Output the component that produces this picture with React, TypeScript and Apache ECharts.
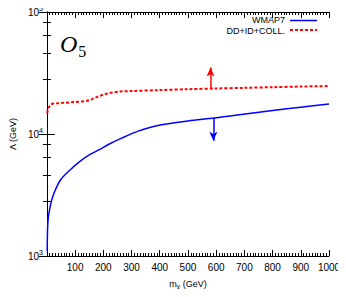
import React, { useEffect, useRef } from "react";
import * as echarts from "echarts";

const massRed = [1, 5, 15, 30, 60, 100, 140, 160, 180, 200, 220, 260, 300, 400, 500, 600, 700, 800, 900, 1000];
const lambdaRed = [14800, 16200, 17500, 17800, 18000, 18300, 18700, 19300, 20200, 21000, 21600, 22300, 22500, 22900, 23300, 23600, 23900, 24200, 24500, 24700];

const massBlue = [1, 4, 14, 25, 48, 82, 116, 150, 184, 218, 263, 321, 389, 500, 594, 662, 800, 900, 1000];
const lambdaBlue = [1100, 1970, 2700, 3270, 4200, 5070, 5930, 6730, 7400, 8200, 9200, 10500, 11700, 12800, 13500, 14200, 15600, 16600, 17600];

const redArrow = { m: 580, from: 23500, to: 35000 };
const blueArrow = { m: 590, from: 13400, to: 8800 };

const yRange = [1000, 100000];
const seriesNames = ["WMAP7", "DD+ID+COLL."];

const FONT = "Liberation Sans";
const BLUE = "#0000ff";
const RED = "#ff0000";

export default function App() {
  const ref = useRef<HTMLDivElement>(null);
  useEffect(() => {
    if (!ref.current) return;
    const chart = echarts.init(ref.current, null, { renderer: "svg" });
    const axisLine = { show: true, lineStyle: { color: "#000", width: 1 } };
    const xBase = {
      type: "value" as const,
      min: 0,
      max: 1000,
      interval: 100,
      axisLine,
      splitLine: { show: false },
      axisTick: { show: true, inside: true, length: 6, lineStyle: { color: "#000" } },
      minorTick: { show: true, splitNumber: 10, length: 3, lineStyle: { color: "#000" } },
      minorSplitLine: { show: false },
    };
    const yBase = {
      type: "log" as const,
      logBase: 10,
      min: yRange[0],
      max: yRange[1],
      axisLine,
      splitLine: { show: false },
      minorSplitLine: { show: false },
      axisTick: { show: true, inside: true, length: 8, lineStyle: { color: "#000" } },
      minorTick: { show: true, length: 4, lineStyle: { color: "#000" } },
    };
    chart.setOption({
      animation: false,
      grid: { left: 36, top: 12, right: 17, bottom: 41 },
      xAxis: [
        {
          ...xBase,
          position: "bottom",
          axisLabel: {
            show: true,
            fontFamily: FONT,
            fontSize: 10,
            color: "#000",
            margin: 6,
            formatter: (v: number) => (v === 0 ? "" : String(v)),
          },
          name: "{a|m}{b|χ}{a| (GeV)}",
          nameLocation: "middle",
          nameGap: 22,
          nameTextStyle: {
            rich: {
              a: { fontFamily: FONT, fontSize: 9, color: "#000" },
              b: { fontFamily: FONT, fontSize: 7, color: "#000", padding: [5, 0, 0, 0] },
            },
          },
        },
        {
          ...xBase,
          position: "top",
          axisLabel: { show: false },
        },
      ],
      yAxis: [
        {
          ...yBase,
          position: "left",
          axisLabel: {
            show: true,
            margin: 4,
            formatter: (v: number) => {
              const e = v > 50 ? Math.round(Math.log10(v)) : Math.round(v);
              return `{b|10}{s|${e}}`;
            },
            rich: {
              b: { fontFamily: FONT, fontSize: 10, color: "#000" },
              s: { fontFamily: FONT, fontSize: 7, color: "#000", padding: [0, 0, 7, 0] },
            },
          },
          name: "Λ (GeV)",
          nameLocation: "middle",
          nameRotate: 90,
          nameGap: 23,
          nameTextStyle: { fontFamily: FONT, fontSize: 9, color: "#000" },
        },
        {
          ...yBase,
          position: "right",
          axisLabel: { show: false },
        },
      ],
      series: [
        {
          name: seriesNames[0],
          type: "line",
          xAxisIndex: 0,
          yAxisIndex: 0,
          data: massBlue.map((m, i) => [m, lambdaBlue[i]]),
          symbol: "none",
          smooth: 0.3,
          lineStyle: { color: BLUE, width: 1.5 },
          markLine: {
            silent: true,
            symbol: ["none", "arrow"],
            symbolSize: [6, 9],
            label: { show: false },
            lineStyle: { color: BLUE, width: 1.5, type: "solid" },
            data: [[{ coord: [blueArrow.m, blueArrow.from] }, { coord: [blueArrow.m, blueArrow.to] }]],
          },
        },
        {
          name: seriesNames[1],
          type: "line",
          xAxisIndex: 0,
          yAxisIndex: 0,
          data: massRed.map((m, i) => [m, lambdaRed[i]]),
          symbol: "none",
          smooth: 0.3,
          lineStyle: { color: RED, width: 2, type: [3, 2] },
          markLine: {
            silent: true,
            symbol: ["none", "arrow"],
            symbolSize: [6, 9],
            label: { show: false },
            lineStyle: { color: RED, width: 1.5, type: "solid" },
            data: [[{ coord: [redArrow.m, redArrow.from] }, { coord: [redArrow.m, redArrow.to] }]],
          },
        },
      ],
      graphic: [
        {
          type: "text",
          left: 60,
          top: 32,
          style: {
            text: "{o|O}{s|5}",
            rich: {
              o: { fontFamily: "Liberation Serif", fontStyle: "italic", fontSize: 24, fill: "#000" },
              s: { fontFamily: "Liberation Serif", fontSize: 16, fill: "#000", padding: [14, 0, 0, 1] },
            },
          },
        },
        {
          type: "text",
          x: 285,
          y: 20,
          style: { text: seriesNames[0], fontFamily: FONT, fontSize: 9, lineHeight: 8, fill: "#000", align: "right", verticalAlign: "middle" },
        },
        {
          type: "text",
          x: 285,
          y: 30.5,
          style: { text: seriesNames[1], fontFamily: FONT, fontSize: 9, lineHeight: 8, fill: "#000", align: "right", verticalAlign: "middle" },
        },
        {
          type: "line",
          shape: { x1: 290, y1: 20.5, x2: 317, y2: 20.5 },
          style: { stroke: BLUE, lineWidth: 1.5 },
        },
        {
          type: "line",
          shape: { x1: 290, y1: 30, x2: 317, y2: 30 },
          style: { stroke: RED, lineWidth: 2, lineDash: [3, 2] },
        },
      ],
    });
    return () => chart.dispose();
  }, []);
  return <div ref={ref} style={{ width: 346, height: 297, margin: -8 }} />;
}
